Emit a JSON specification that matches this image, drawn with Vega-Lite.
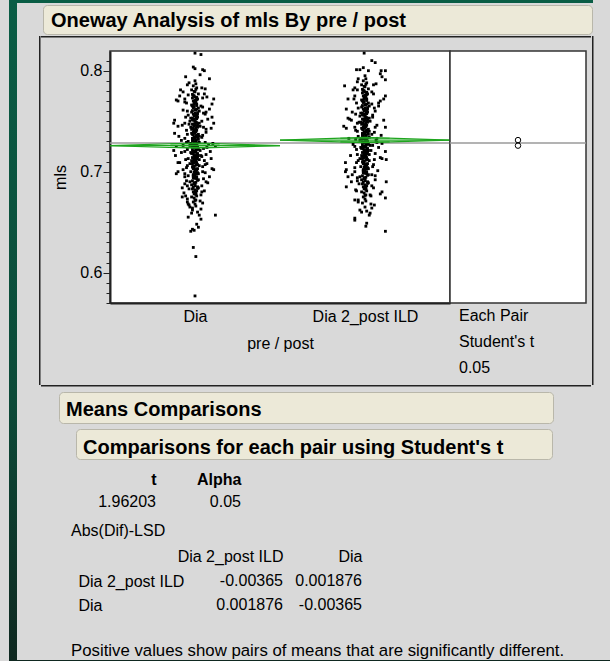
{
"$schema":"https://vega.github.io/schema/vega-lite/v6.json",
"background":"#d9d9d9",
"padding":{"left":9,"top":0,"right":0,"bottom":0},
"spacing":0,
"config":{
 "font":"Liberation Sans",
 "view":{"stroke":null},
 "concat":{"spacing":0},
 "axis":{"labelFont":"Liberation Sans","titleFont":"Liberation Sans","labelColor":"#000","titleColor":"#000","grid":false},
 "title":{"font":"Liberation Sans","color":"#000","anchor":"start","frame":"group","baseline":"alphabetic"},
 "text":{"font":"Liberation Sans","color":"#000"}
},
"datasets":{
 "dia":[
{"m":0.727,"j":0},{"m":0.731,"j":-2},{"m":0.722,"j":3},{"m":0.735,"j":1},{"m":0.718,"j":-4},{"m":0.741,"j":2},{"m":0.713,"j":-1},{"m":0.729,"j":5},{"m":0.724,"j":-3},{"m":0.738,"j":0},
{"m":0.709,"j":2},{"m":0.744,"j":-5},{"m":0.732,"j":4},{"m":0.720,"j":-1},{"m":0.749,"j":1},{"m":0.703,"j":-2},{"m":0.726,"j":-6},{"m":0.736,"j":3},{"m":0.715,"j":0},{"m":0.753,"j":-3},
{"m":0.698,"j":4},{"m":0.730,"j":1},{"m":0.719,"j":-2},{"m":0.745,"j":6},{"m":0.711,"j":-4},{"m":0.758,"j":0},{"m":0.694,"j":-1},{"m":0.733,"j":-3},{"m":0.723,"j":2},{"m":0.740,"j":-1},
{"m":0.706,"j":5},{"m":0.762,"j":2},{"m":0.689,"j":0},{"m":0.728,"j":-5},{"m":0.716,"j":4},{"m":0.751,"j":-2},{"m":0.701,"j":1},{"m":0.766,"j":-4},{"m":0.685,"j":3},{"m":0.734,"j":-1},
{"m":0.721,"j":1},{"m":0.747,"j":-3},{"m":0.708,"j":-6},{"m":0.771,"j":1},{"m":0.680,"j":-2},{"m":0.737,"j":4},{"m":0.714,"j":-3},{"m":0.755,"j":2},{"m":0.696,"j":0},{"m":0.775,"j":-1},
{"m":0.676,"j":2},{"m":0.725,"j":3},{"m":0.742,"j":-4},{"m":0.704,"j":-1},{"m":0.760,"j":5},{"m":0.691,"j":-3},{"m":0.779,"j":0},{"m":0.672,"j":1},{"m":0.739,"j":-2},{"m":0.717,"j":2},
{"m":0.750,"j":-6},{"m":0.699,"j":3},{"m":0.768,"j":-1},{"m":0.687,"j":-4},{"m":0.783,"j":2},{"m":0.668,"j":0},{"m":0.729,"j":-1},{"m":0.743,"j":1},{"m":0.712,"j":5},{"m":0.757,"j":-2},
{"m":0.693,"j":2},{"m":0.773,"j":-3},{"m":0.682,"j":0},{"m":0.787,"j":1},{"m":0.664,"j":-3},{"m":0.734,"j":2},{"m":0.719,"j":-5},{"m":0.746,"j":0},{"m":0.707,"j":3},{"m":0.764,"j":-1},
{"m":0.697,"j":-2},{"m":0.777,"j":4},{"m":0.678,"j":-1},{"m":0.726,"j":1},{"m":0.738,"j":-4},{"m":0.702,"j":0},{"m":0.754,"j":3},{"m":0.690,"j":-6},{"m":0.769,"j":1},{"m":0.684,"j":4},
{"m":0.732,"j":-3},{"m":0.714,"j":1},{"m":0.748,"j":5},{"m":0.705,"j":-2},{"m":0.761,"j":0},{"m":0.695,"j":2},{"m":0.781,"j":-4},{"m":0.674,"j":-1},{"m":0.723,"j":4},{"m":0.741,"j":-1},
{"m":0.710,"j":-3},{"m":0.756,"j":1},{"m":0.700,"j":-5},{"m":0.772,"j":3},{"m":0.686,"j":0},{"m":0.736,"j":2},{"m":0.720,"j":-2},{"m":0.752,"j":-1},{"m":0.692,"j":4},{"m":0.765,"j":-3},
{"m":0.679,"j":1},{"m":0.790,"j":0},{"m":0.670,"j":-2},{"m":0.728,"j":2},{"m":0.744,"j":3},{"m":0.716,"j":-1},{"m":0.759,"j":-4},{"m":0.698,"j":1},{"m":0.774,"j":0},{"m":0.683,"j":-3},
{"m":0.735,"j":5},{"m":0.712,"j":0},{"m":0.747,"j":-2},{"m":0.703,"j":3},{"m":0.767,"j":2},{"m":0.688,"j":-1},{"m":0.727,"j":-4},{"m":0.740,"j":0},{"m":0.718,"j":3},{"m":0.753,"j":-5},
{"m":0.694,"j":-2},{"m":0.763,"j":4},{"m":0.681,"j":2},{"m":0.731,"j":1},{"m":0.709,"j":-1},{"m":0.745,"j":2},{"m":0.700,"j":0},{"m":0.770,"j":-2},{"m":0.675,"j":-4},{"m":0.724,"j":-1},
{"m":0.757,"j":3},{"m":0.666,"j":1},{"m":0.785,"j":-2},{"m":0.737,"j":-3},{"m":0.721,"j":6},{"m":0.750,"j":0},{"m":0.697,"j":-1},
{"m":0.7305,"j":-3},{"m":0.7255,"j":2},{"m":0.7335,"j":0},{"m":0.7195,"j":1},{"m":0.7385,"j":-1},{"m":0.7145,"j":3},{"m":0.7435,"j":-2},{"m":0.7095,"j":0},{"m":0.7485,"j":2},{"m":0.7045,"j":-3},
{"m":0.7535,"j":1},{"m":0.6995,"j":-1},{"m":0.7585,"j":3},{"m":0.6945,"j":0},{"m":0.7635,"j":-2},{"m":0.6895,"j":1},{"m":0.7685,"j":0},{"m":0.6845,"j":-2},{"m":0.7735,"j":2},{"m":0.6795,"j":0},
{"m":0.7215,"j":-3},{"m":0.7285,"j":3},{"m":0.7365,"j":-2},{"m":0.7165,"j":2},{"m":0.7415,"j":0},{"m":0.7115,"j":-1},{"m":0.7465,"j":3},{"m":0.7065,"j":1},{"m":0.7515,"j":-3},{"m":0.7015,"j":2},
{"m":0.7565,"j":0},{"m":0.6965,"j":-2},{"m":0.7615,"j":1},{"m":0.6915,"j":3},{"m":0.7665,"j":-1},{"m":0.6865,"j":0},{"m":0.7715,"j":2},{"m":0.7765,"j":-3},{"m":0.7815,"j":1},{"m":0.6715,"j":0},
{"m":0.7245,"j":0},{"m":0.7325,"j":-1},{"m":0.7175,"j":-2},{"m":0.7395,"j":1},{"m":0.7125,"j":2},{"m":0.7455,"j":-1},{"m":0.7075,"j":-3},{"m":0.7505,"j":0},{"m":0.7025,"j":2},{"m":0.7555,"j":-1},
{"m":0.6985,"j":1},{"m":0.7605,"j":-3},{"m":0.6935,"j":0},{"m":0.7655,"j":2},{"m":0.6885,"j":-1},{"m":0.7705,"j":0},{"m":0.6835,"j":3},{"m":0.7755,"j":-2},{"m":0.6775,"j":1},{"m":0.7795,"j":-1},
{"m":0.7225,"j":1},{"m":0.7345,"j":3},{"m":0.7275,"j":-2},{"m":0.7155,"j":0},{"m":0.7425,"j":-3},{"m":0.7105,"j":1},{"m":0.7475,"j":0},{"m":0.7055,"j":-1},{"m":0.7525,"j":2},{"m":0.6955,"j":-2},
{"m":0.788,"j":-7},{"m":0.782,"j":12},{"m":0.776,"j":-8},{"m":0.773,"j":9},{"m":0.769,"j":-12},{"m":0.765,"j":7},{"m":0.760,"j":-9},{"m":0.758,"j":10},{"m":0.754,"j":-11},{"m":0.750,"j":8},
{"m":0.747,"j":-7},{"m":0.742,"j":13},{"m":0.737,"j":-9},{"m":0.734,"j":8},{"m":0.729,"j":-10},{"m":0.724,"j":14},{"m":0.720,"j":-12},{"m":0.716,"j":7},{"m":0.713,"j":-8},{"m":0.707,"j":12},
{"m":0.704,"j":-10},{"m":0.700,"j":9},{"m":0.695,"j":-12},{"m":0.690,"j":13},{"m":0.686,"j":-9},{"m":0.680,"j":8},{"m":0.676,"j":-11},{"m":0.671,"j":6},{"m":0.668,"j":-8},{"m":0.663,"j":7},
{"m":0.8174,"j":0},{"m":0.816,"j":7},{"m":0.8036,"j":-2},{"m":0.802,"j":0},{"m":0.801,"j":9},{"m":0.800,"j":11},{"m":0.796,"j":6},{"m":0.792,"j":17},{"m":0.794,"j":-11},
{"m":0.781,"j":-17},{"m":0.779,"j":-14},{"m":0.775,"j":-18},{"m":0.771,"j":-22},{"m":0.770,"j":-20},{"m":0.772,"j":-12},{"m":0.777,"j":11},{"m":0.774,"j":14},{"m":0.772,"j":22},{"m":0.767,"j":20},{"m":0.762,"j":17},{"m":0.759,"j":13},
{"m":0.751,"j":-24},{"m":0.748,"j":-25},{"m":0.745,"j":-20},{"m":0.748,"j":-12},{"m":0.754,"j":20},{"m":0.748,"j":22},{"m":0.743,"j":19},
{"m":0.738,"j":-24},{"m":0.735,"j":-19},{"m":0.731,"j":-16},{"m":0.725,"j":-22},{"m":0.721,"j":-25},{"m":0.716,"j":-23},{"m":0.709,"j":-20},{"m":0.709,"j":-18},{"m":0.698,"j":-22},{"m":0.700,"j":-20},{"m":0.698,"j":-12},
{"m":0.728,"j":21},{"m":0.725,"j":24},{"m":0.720,"j":18},{"m":0.713,"j":19},{"m":0.708,"j":14},{"m":0.703,"j":20},{"m":0.702,"j":22},{"m":0.695,"j":17},{"m":0.689,"j":15},
{"m":0.688,"j":-12},{"m":0.684,"j":-15},{"m":0.679,"j":-13},{"m":0.675,"j":-15},{"m":0.670,"j":-9},{"m":0.667,"j":-7},{"m":0.662,"j":-3},{"m":0.659,"j":-4},{"m":0.660,"j":3},{"m":0.657,"j":5},{"m":0.657,"j":24},{"m":0.642,"j":-1},{"m":0.643,"j":-3},{"m":0.625,"j":-2},{"m":0.616,"j":1},{"m":0.577,"j":0},
{"m":0.786,"j":-9},{"m":0.783,"j":8},{"m":0.768,"j":-10},{"m":0.764,"j":9},{"m":0.761,"j":-14},{"m":0.757,"j":12},{"m":0.756,"j":-8},{"m":0.752,"j":15},{"m":0.746,"j":-15},{"m":0.744,"j":10},{"m":0.741,"j":-10},{"m":0.739,"j":13},{"m":0.736,"j":9},{"m":0.733,"j":-12},{"m":0.730,"j":-8},{"m":0.729,"j":12},{"m":0.727,"j":16},{"m":0.726,"j":-14},{"m":0.723,"j":10},{"m":0.722,"j":-9},{"m":0.719,"j":-16},{"m":0.717,"j":13},{"m":0.715,"j":8},{"m":0.712,"j":-11},{"m":0.711,"j":11},{"m":0.706,"j":-9},{"m":0.705,"j":9},{"m":0.702,"j":-14},{"m":0.699,"j":12},{"m":0.696,"j":-8},{"m":0.693,"j":10},{"m":0.691,"j":-10},{"m":0.686,"j":8},{"m":0.683,"j":-7},{"m":0.681,"j":11},{"m":0.677,"j":7},{"m":0.673,"j":-9},{"m":0.669,"j":9},{"m":0.665,"j":-6},{"m":0.653,"j":7},{"m":0.648,"j":2},{"m":0.641,"j":-5},{"m":0.645,"j":4},{"m":0.655,"j":-8}
 ],
 "dia2":[
{"m":0.732,"j":0},{"m":0.736,"j":-2},{"m":0.727,"j":3},{"m":0.740,"j":1},{"m":0.723,"j":-4},{"m":0.746,"j":2},{"m":0.718,"j":-1},{"m":0.734,"j":5},{"m":0.729,"j":-3},{"m":0.743,"j":0},
{"m":0.714,"j":2},{"m":0.749,"j":-5},{"m":0.737,"j":4},{"m":0.725,"j":-1},{"m":0.754,"j":1},{"m":0.708,"j":-2},{"m":0.731,"j":-6},{"m":0.741,"j":3},{"m":0.720,"j":0},{"m":0.758,"j":-3},
{"m":0.703,"j":4},{"m":0.735,"j":1},{"m":0.724,"j":-2},{"m":0.750,"j":6},{"m":0.716,"j":-4},{"m":0.763,"j":0},{"m":0.699,"j":-1},{"m":0.738,"j":-3},{"m":0.728,"j":2},{"m":0.745,"j":-1},
{"m":0.711,"j":5},{"m":0.767,"j":2},{"m":0.694,"j":0},{"m":0.733,"j":-5},{"m":0.721,"j":4},{"m":0.756,"j":-2},{"m":0.706,"j":1},{"m":0.771,"j":-4},{"m":0.690,"j":3},{"m":0.739,"j":-1},
{"m":0.726,"j":1},{"m":0.752,"j":-3},{"m":0.713,"j":-6},{"m":0.776,"j":1},{"m":0.685,"j":-2},{"m":0.742,"j":4},{"m":0.719,"j":-3},{"m":0.760,"j":2},{"m":0.701,"j":0},{"m":0.780,"j":-1},
{"m":0.681,"j":2},{"m":0.730,"j":3},{"m":0.747,"j":-4},{"m":0.709,"j":-1},{"m":0.765,"j":5},{"m":0.696,"j":-3},{"m":0.784,"j":0},{"m":0.677,"j":1},{"m":0.744,"j":-2},{"m":0.722,"j":2},
{"m":0.755,"j":-6},{"m":0.704,"j":3},{"m":0.773,"j":-1},{"m":0.692,"j":-4},{"m":0.788,"j":2},{"m":0.673,"j":0},{"m":0.734,"j":-1},{"m":0.748,"j":1},{"m":0.717,"j":5},{"m":0.762,"j":-2},
{"m":0.698,"j":2},{"m":0.778,"j":-3},{"m":0.687,"j":0},{"m":0.792,"j":1},{"m":0.669,"j":-3},{"m":0.739,"j":2},{"m":0.724,"j":-5},{"m":0.751,"j":0},{"m":0.712,"j":3},{"m":0.769,"j":-1},
{"m":0.702,"j":-2},{"m":0.782,"j":4},{"m":0.683,"j":-1},{"m":0.731,"j":1},{"m":0.743,"j":-4},{"m":0.707,"j":0},{"m":0.759,"j":3},{"m":0.695,"j":-6},{"m":0.774,"j":1},{"m":0.689,"j":4},
{"m":0.737,"j":-3},{"m":0.719,"j":1},{"m":0.753,"j":5},{"m":0.710,"j":-2},{"m":0.766,"j":0},{"m":0.700,"j":2},{"m":0.786,"j":-4},{"m":0.679,"j":-1},{"m":0.728,"j":4},{"m":0.746,"j":-1},
{"m":0.715,"j":-3},{"m":0.761,"j":1},{"m":0.705,"j":-5},{"m":0.777,"j":3},{"m":0.691,"j":0},{"m":0.741,"j":2},{"m":0.725,"j":-2},{"m":0.757,"j":-1},{"m":0.697,"j":4},{"m":0.770,"j":-3},
{"m":0.684,"j":1},{"m":0.795,"j":0},{"m":0.675,"j":-2},{"m":0.733,"j":2},{"m":0.749,"j":3},{"m":0.721,"j":-1},{"m":0.764,"j":-4},{"m":0.703,"j":1},{"m":0.779,"j":0},{"m":0.688,"j":-3},
{"m":0.740,"j":5},{"m":0.717,"j":0},{"m":0.752,"j":-2},{"m":0.708,"j":3},{"m":0.772,"j":2},{"m":0.693,"j":-1},{"m":0.732,"j":-4},{"m":0.745,"j":0},{"m":0.723,"j":3},{"m":0.758,"j":-5},
{"m":0.699,"j":-2},{"m":0.768,"j":4},{"m":0.686,"j":2},{"m":0.736,"j":1},{"m":0.714,"j":-1},{"m":0.750,"j":2},{"m":0.705,"j":0},{"m":0.775,"j":-2},{"m":0.680,"j":-4},{"m":0.729,"j":-1},
{"m":0.762,"j":3},{"m":0.671,"j":1},{"m":0.790,"j":-2},{"m":0.742,"j":-3},{"m":0.726,"j":6},{"m":0.755,"j":0},{"m":0.702,"j":-1},{"m":0.665,"j":0},{"m":0.661,"j":2},
{"m":0.7355,"j":-3},{"m":0.7305,"j":2},{"m":0.7385,"j":0},{"m":0.7245,"j":1},{"m":0.7435,"j":-1},{"m":0.7195,"j":3},{"m":0.7485,"j":-2},{"m":0.7145,"j":0},{"m":0.7535,"j":2},{"m":0.7095,"j":-3},
{"m":0.7585,"j":1},{"m":0.7045,"j":-1},{"m":0.7635,"j":3},{"m":0.6995,"j":0},{"m":0.7685,"j":-2},{"m":0.6945,"j":1},{"m":0.7735,"j":0},{"m":0.6895,"j":-2},{"m":0.7785,"j":2},{"m":0.6845,"j":0},
{"m":0.7265,"j":-3},{"m":0.7335,"j":3},{"m":0.7415,"j":-2},{"m":0.7215,"j":2},{"m":0.7465,"j":0},{"m":0.7165,"j":-1},{"m":0.7515,"j":3},{"m":0.7115,"j":1},{"m":0.7565,"j":-3},{"m":0.7065,"j":2},
{"m":0.7615,"j":0},{"m":0.7015,"j":-2},{"m":0.7665,"j":1},{"m":0.6965,"j":3},{"m":0.7715,"j":-1},{"m":0.6915,"j":0},{"m":0.7765,"j":2},{"m":0.7815,"j":-3},{"m":0.7865,"j":1},{"m":0.6765,"j":0},
{"m":0.7295,"j":0},{"m":0.7375,"j":-1},{"m":0.7225,"j":-2},{"m":0.7445,"j":1},{"m":0.7175,"j":2},{"m":0.7505,"j":-1},{"m":0.7125,"j":-3},{"m":0.7555,"j":0},{"m":0.7075,"j":2},{"m":0.7605,"j":-1},
{"m":0.7035,"j":1},{"m":0.7655,"j":-3},{"m":0.6985,"j":0},{"m":0.7705,"j":2},{"m":0.6935,"j":-1},{"m":0.7755,"j":0},{"m":0.6885,"j":3},{"m":0.7805,"j":-2},{"m":0.6825,"j":1},{"m":0.7845,"j":-1},
{"m":0.7275,"j":1},{"m":0.7395,"j":3},{"m":0.7325,"j":-2},{"m":0.7205,"j":0},{"m":0.7475,"j":-3},{"m":0.7155,"j":1},{"m":0.7525,"j":0},{"m":0.7105,"j":-1},{"m":0.7575,"j":2},{"m":0.7005,"j":-2},
{"m":0.792,"j":-8},{"m":0.787,"j":13},{"m":0.781,"j":-9},{"m":0.777,"j":10},{"m":0.772,"j":-13},{"m":0.767,"j":8},{"m":0.763,"j":-8},{"m":0.760,"j":12},{"m":0.757,"j":-11},{"m":0.754,"j":9},
{"m":0.749,"j":-7},{"m":0.744,"j":12},{"m":0.740,"j":-9},{"m":0.737,"j":8},{"m":0.732,"j":-11},{"m":0.729,"j":14},{"m":0.725,"j":-12},{"m":0.721,"j":7},{"m":0.717,"j":-9},{"m":0.712,"j":11},
{"m":0.709,"j":-10},{"m":0.705,"j":9},{"m":0.700,"j":-12},{"m":0.696,"j":12},{"m":0.691,"j":-9},{"m":0.686,"j":8},{"m":0.682,"j":-11},{"m":0.677,"j":6},{"m":0.672,"j":-8},{"m":0.668,"j":7},
{"m":0.8174,"j":-1},{"m":0.810,"j":8},{"m":0.808,"j":12},{"m":0.801,"j":-10},{"m":0.801,"j":-6},{"m":0.803,"j":-2},{"m":0.800,"j":4},{"m":0.800,"j":19},{"m":0.800,"j":24},{"m":0.791,"j":24},{"m":0.797,"j":18},{"m":0.794,"j":20},
{"m":0.785,"j":-24},{"m":0.781,"j":-14},{"m":0.775,"j":-12},{"m":0.772,"j":-20},{"m":0.772,"j":22},{"m":0.775,"j":24},{"m":0.770,"j":18},{"m":0.765,"j":16},
{"m":0.762,"j":-22},{"m":0.753,"j":-20},{"m":0.745,"j":-25},{"m":0.743,"j":-22},{"m":0.751,"j":-16},{"m":0.744,"j":-12},{"m":0.751,"j":22},{"m":0.744,"j":24},{"m":0.736,"j":19},{"m":0.733,"j":14},
{"m":0.728,"j":20},{"m":0.720,"j":24},{"m":0.712,"j":25},{"m":0.714,"j":18},
{"m":0.709,"j":-23},{"m":0.702,"j":-22},{"m":0.700,"j":-23},{"m":0.695,"j":-20},{"m":0.690,"j":-16},{"m":0.685,"j":-22},{"m":0.672,"j":-12},{"m":0.654,"j":-12},{"m":0.652,"j":-12},{"m":0.660,"j":-4},
{"m":0.680,"j":20},{"m":0.674,"j":24},{"m":0.690,"j":25},{"m":0.678,"j":18},{"m":0.649,"j":2},{"m":0.646,"j":1},{"m":0.659,"j":6},{"m":0.664,"j":8},{"m":0.641,"j":24},
{"m":0.789,"j":-9},{"m":0.786,"j":10},{"m":0.783,"j":-12},{"m":0.779,"j":8},{"m":0.768,"j":-10},{"m":0.763,"j":11},{"m":0.759,"j":-15},{"m":0.756,"j":9},{"m":0.748,"j":-9},{"m":0.746,"j":14},{"m":0.741,"j":-11},{"m":0.739,"j":11},{"m":0.735,"j":-8},{"m":0.731,"j":13},{"m":0.727,"j":-14},{"m":0.726,"j":9},{"m":0.722,"j":-10},{"m":0.718,"j":12},{"m":0.716,"j":-17},{"m":0.711,"j":-8},{"m":0.707,"j":10},{"m":0.704,"j":-12},{"m":0.701,"j":15},{"m":0.697,"j":8},{"m":0.694,"j":-9},{"m":0.692,"j":12},{"m":0.688,"j":-7},{"m":0.684,"j":10},{"m":0.681,"j":-10},{"m":0.676,"j":7},{"m":0.670,"j":-8},{"m":0.667,"j":11},{"m":0.662,"j":-6},{"m":0.657,"j":5},{"m":0.768,"j":16},{"m":0.752,"j":-18},{"m":0.733,"j":-19},{"m":0.713,"j":20},{"m":0.697,"j":-15},{"m":0.724,"j":16}
 ],
 "dmd":[
{"g":"Dia","s":"d","k":0,"p":-100,"v":0.7258},{"g":"Dia","s":"d","k":1,"p":0,"v":0.7284},{"g":"Dia","s":"d","k":2,"p":100,"v":0.7258},{"g":"Dia","s":"d","k":3,"p":0,"v":0.7232},{"g":"Dia","s":"d","k":4,"p":-100,"v":0.7258},
{"g":"Dia","s":"m","k":0,"p":-100,"v":0.7258},{"g":"Dia","s":"m","k":1,"p":100,"v":0.7258},
{"g":"Dia","s":"u","k":0,"p":-29,"v":0.7276},{"g":"Dia","s":"u","k":1,"p":29,"v":0.7276},
{"g":"Dia","s":"l","k":0,"p":-29,"v":0.7240},{"g":"Dia","s":"l","k":1,"p":29,"v":0.7240},
{"g":"Dia 2_post ILD","s":"d","k":0,"p":-100,"v":0.7313},{"g":"Dia 2_post ILD","s":"d","k":1,"p":0,"v":0.7339},{"g":"Dia 2_post ILD","s":"d","k":2,"p":100,"v":0.7313},{"g":"Dia 2_post ILD","s":"d","k":3,"p":0,"v":0.7287},{"g":"Dia 2_post ILD","s":"d","k":4,"p":-100,"v":0.7313},
{"g":"Dia 2_post ILD","s":"m","k":0,"p":-100,"v":0.7313},{"g":"Dia 2_post ILD","s":"m","k":1,"p":100,"v":0.7313},
{"g":"Dia 2_post ILD","s":"u","k":0,"p":-29,"v":0.7331},{"g":"Dia 2_post ILD","s":"u","k":1,"p":29,"v":0.7331},
{"g":"Dia 2_post ILD","s":"l","k":0,"p":-29,"v":0.7295},{"g":"Dia 2_post ILD","s":"l","k":1,"p":29,"v":0.7295}
 ],
 "cc":[{"g":"Dia","mean":0.7258},{"g":"Dia 2_post ILD","mean":0.7313}]
},
"hconcat":[
 {"width":8,"height":661,"data":{"values":[{}]},
  "mark":{"type":"rect","color":{"gradient":"linear","x1":0,"y1":0,"x2":0,"y2":1,"stops":[{"offset":0,"color":"#0a5d45"},{"offset":0.6,"color":"#0c4a38"},{"offset":1,"color":"#0f2820"}]}},
  "encoding":{}},
 {"vconcat":[
   {"width":576,"height":3,"view":{"fill":"#0a5d45"},"data":{"values":[]},"mark":"point"},
   {"width":1,"height":1,"data":{"values":[]},"mark":"point"},
   {"hconcat":[
     {"width":26,"height":1,"data":{"values":[]},"mark":"point"},
     {"width":549,"height":29,"view":{"fill":"#ece9d8","stroke":"#b9b7aa","strokeWidth":1,"cornerRadius":4},
      "title":{"text":"Oneway Analysis of mls By pre / post","fontSize":20,"fontWeight":"bold","offset":-26,"dx":8},
      "data":{"values":[]},"mark":"point"}
   ],"bounds":"flush"},
   {"width":1,"height":1,"data":{"values":[]},"mark":"point"},
   {"hconcat":[
     {"width":22,"height":1,"data":{"values":[]},"mark":"point"},
     {"hconcat":[
       {"width":1.5,"height":349,"view":{"fill":"#222222"},"data":{"values":[]},"mark":"point"},
       {"vconcat":[
         {"width":550,"height":1.5,"view":{"fill":"#222222"},"data":{"values":[]},"mark":"point"},
         {"vconcat":[
           {"width":550,"height":11.75,"data":{"values":[]},"mark":"point"},
           {"hconcat":[
             {"width":68.5,"height":333.5,"data":{"values":[]},"mark":"point"},
             {"width":340,"height":252,
              "view":{"fill":"#ffffff","stroke":"#333333","strokeWidth":1.5},
              "resolve":{"axis":{"y":"independent"}},
              "layer":[
               {"data":{"values":[{}]},"mark":{"type":"rule","color":"#9a9a9a","strokeWidth":1.5},
                "encoding":{"y":{"datum":0.7284,"type":"quantitative","scale":{"domain":[0.57,0.8195],"nice":false,"zero":false},
                  "axis":{"orient":"left","values":[0.57,0.58,0.59,0.61,0.62,0.63,0.64,0.65,0.66,0.67,0.68,0.69,0.71,0.72,0.73,0.74,0.75,0.76,0.77,0.78,0.79,0.81],"tickSize":4,"tickColor":"#222222","labels":false,"domain":false,"title":null}}}},
               {"data":{"name":"dia"},"mark":{"type":"square","size":8,"color":"#000000","opacity":1},
                "encoding":{
                  "x":{"datum":"Dia","type":"nominal","scale":{"type":"band","domain":["Dia","Dia 2_post ILD"],"paddingInner":0,"paddingOuter":0},
                    "axis":{"orient":"bottom","title":"pre / post","domainColor":"#222222","domainWidth":2,"tickColor":"#222222","tickSize":7,"tickWidth":1.5,"tickBand":"extent",
                      "tickOpacity":{"condition":{"test":"datum.value === 'Dia 2_post ILD' && datum.index < 0.9","value":1},"value":0},
                      "labelAngle":0,"labelFontSize":16,"labelBaseline":"alphabetic","labelPadding":11,
                      "titleFontSize":16,"titleFontWeight":"normal","titleBaseline":"alphabetic","titleX":170,"titleY":45}},
                  "xOffset":{"field":"j","type":"quantitative","scale":{"domain":[-100,100],"range":[0,170]}},
                  "y":{"field":"m","type":"quantitative",
                    "axis":{"orient":"left","values":[0.6,0.7,0.8],"format":".1f","tickSize":7,"tickColor":"#222222","domainColor":"#222222","domainWidth":2,
                      "labelFontSize":16,"labelPadding":1,"title":"mls","titleFontSize":16,"titleFontWeight":"normal","titleAngle":-90,
                      "titleBaseline":"alphabetic","titleAlign":"center","titleX":-45,"titleY":126}}}},
               {"data":{"name":"dia2"},"mark":{"type":"square","size":8,"color":"#000000","opacity":1},
                "encoding":{
                  "x":{"datum":"Dia 2_post ILD","type":"nominal"},
                  "xOffset":{"field":"j","type":"quantitative"},
                  "y":{"field":"m","type":"quantitative","axis":null}}},
               {"data":{"name":"dmd"},"mark":{"type":"line","color":"#1fa51f","strokeWidth":1.2},
                "encoding":{
                  "x":{"field":"g","type":"nominal","axis":{"title":"pre / post"}},
                  "xOffset":{"field":"p","type":"quantitative"},
                  "y":{"field":"v","type":"quantitative","axis":null},
                  "detail":[{"field":"g"},{"field":"s"}],
                  "order":{"field":"k"}}}
              ]},
             {"width":136,"height":252,
              "view":{"fill":"#ffffff","stroke":"#333333","strokeWidth":1.5},
              "title":{"text":["Each Pair","Student's t","0.05"],"orient":"bottom","offset":5,"dx":9,"fontSize":16,"fontWeight":"normal","lineHeight":26},
              "layer":[
               {"data":{"values":[{}]},"mark":{"type":"rule","color":"#9a9a9a","strokeWidth":1.5},
                "encoding":{"y":{"datum":0.7284,"type":"quantitative","scale":{"domain":[0.57,0.8195],"nice":false,"zero":false},"axis":null}}},
               {"data":{"name":"cc"},"mark":{"type":"point","shape":"circle","filled":false,"color":"#000000","strokeWidth":1,"size":30,"opacity":1},
                "encoding":{"y":{"field":"mean","type":"quantitative","axis":null}}}
              ]},
             {"width":5.5,"height":1,"data":{"values":[]},"mark":"point"}
           ],"bounds":"flush"}
         ]},
         {"width":550,"height":1.5,"view":{"fill":"#222222"},"data":{"values":[]},"mark":"point"}
       ]},
       {"width":1.5,"height":349,"view":{"fill":"#222222"},"data":{"values":[]},"mark":"point"}
     ]}
   ]},
   {"width":1,"height":3.5,"data":{"values":[]},"mark":"point"},
   {"hconcat":[
     {"width":42,"height":1,"data":{"values":[]},"mark":"point"},
     {"width":494,"height":31,"view":{"fill":"#ece9d8","stroke":"#b9b7aa","strokeWidth":1,"cornerRadius":4},
      "title":{"text":"Means Comparisons","fontSize":20,"fontWeight":"bold","offset":-28,"dx":7},
      "data":{"values":[]},"mark":"point"}
   ],"bounds":"flush"},
   {"width":1,"height":3.5,"data":{"values":[]},"mark":"point"},
   {"hconcat":[
     {"width":59,"height":1,"data":{"values":[]},"mark":"point"},
     {"width":476,"height":30,"view":{"fill":"#ece9d8","stroke":"#b9b7aa","strokeWidth":1,"cornerRadius":4},
      "title":{"text":"Comparisons for each pair using Student's t","fontSize":20,"fontWeight":"bold","offset":-28.7,"dx":7},
      "data":{"values":[]},"mark":"point"}
   ],"bounds":"flush"},
   {"vconcat":[
     {"width":593,"height":31.5,"data":{"values":[]},"mark":"point"},
     {"width":593,"height":20,
      "data":{"values":[{"stat":"t","val":"1.96203"},{"stat":"Alpha","val":"0.05"}]},
      "mark":{"type":"text","align":"right","baseline":"middle","fontSize":16},
      "encoding":{
        "x":{"field":"stat","type":"nominal","sort":null,"scale":{"type":"point","domain":["t","Alpha"],"range":[139,224],"padding":0},
          "axis":{"orient":"top","title":null,"domain":false,"ticks":false,"tickSize":0,"labelAlign":"right","labelBaseline":"alphabetic","labelPadding":8,"labelFontSize":16,"labelFontWeight":"bold","labelAngle":0}},
        "text":{"field":"val"}}},
     {"width":593,"height":56,"data":{"values":[]},"mark":"point"},
     {"width":593,"height":50,
      "title":{"text":"Abs(Dif)-LSD","offset":9,"dx":54,"fontSize":16,"fontWeight":"normal"},
      "data":{"values":[{"r":"Dia 2_post ILD","c":"Dia 2_post ILD","v":"-0.00365"},{"r":"Dia 2_post ILD","c":"Dia","v":"0.001876"},{"r":"Dia","c":"Dia 2_post ILD","v":"0.001876"},{"r":"Dia","c":"Dia","v":"-0.00365"}]},
      "mark":{"type":"text","align":"right","baseline":"middle","fontSize":16},
      "encoding":{
        "x":{"field":"c","type":"nominal","sort":null,"scale":{"type":"point","domain":["Dia 2_post ILD","Dia"],"range":[266,345],"padding":0},
          "axis":{"orient":"top","title":null,"domain":false,"ticks":false,"tickSize":0,"labelAlign":"right","labelBaseline":"alphabetic","labelPadding":7,"labelFontSize":16,"labelAngle":0}},
        "y":{"field":"r","type":"nominal","sort":null,"scale":{"type":"point","domain":["Dia 2_post ILD","Dia"],"range":[13,37],"padding":0},
          "axis":{"orient":"left","title":null,"domain":false,"ticks":false,"tickSize":0,"labelAlign":"left","labelBaseline":"middle","labelPadding":-61,"labelFontSize":16}},
        "text":{"field":"v"}}},
     {"width":593,"height":42,
      "title":{"text":"Positive values show pairs of means that are significantly different.","offset":-41.8,"dx":54,"fontSize":16.8,"fontWeight":"normal"},
      "data":{"values":[]},"mark":"point"}
   ],"bounds":"flush"},
   {"width":593,"height":3,"view":{"fill":"#0f2820"},"data":{"values":[]},"mark":"point"}
 ]}
]
}
